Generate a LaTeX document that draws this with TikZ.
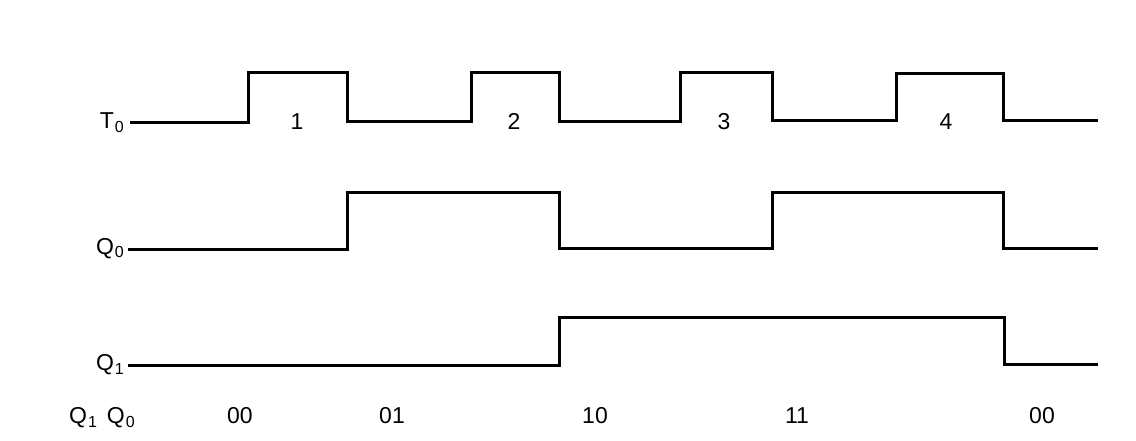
\documentclass[tikz,border=0pt]{standalone}
\usepackage{fontspec}
\setmainfont{Liberation Sans}
\newcommand{\sigsub}[1]{\hspace{1pt}\raisebox{-4pt}{\fontsize{16}{16}\selectfont #1}}
\begin{document}
\begin{tikzpicture}[x=1pt,y=-1pt,
  wave/.style={line width=3pt,line join=miter,black},
  lbl/.style={font=\fontsize{23}{23}\selectfont,inner sep=0pt,text=black},
  sig/.style={lbl,anchor=base east},
  num/.style={lbl,anchor=base}]
\useasboundingbox (0,0) rectangle (1136,441);
% T0
\draw[wave] (130,123) -- (248,123) -- (248,73) -- (347,73) -- (347,122)
  -- (471,122) -- (471,73) -- (559,73) -- (559,122)
  -- (680,122) -- (680,73) -- (772,73) -- (772,121)
  -- (896,121) -- (896,74) -- (1003,74) -- (1003,121) -- (1098,121);
% Q0
\draw[wave] (128,249) -- (347,249) -- (347,193) -- (559,193) -- (559,248)
  -- (772,248) -- (772,193) -- (1003,193) -- (1003,248) -- (1098,248);
% Q1
\draw[wave] (128,365) -- (559,365) -- (559,317) -- (1004,317) -- (1004,364) -- (1098,364);
% signal labels
\node[sig] (t0) at (124,129) {T\sigsub{0}};
\node[sig] (q0) at (124,254) {Q\sigsub{0}};
\node[sig] (q1) at (124,370) {Q\sigsub{1}};
% pulse numbers
\node[num] (p1) at (297,130) {1};
\node[num] (p2) at (514,130) {2};
\node[num] (p3) at (724,130) {3};
\node[num] (p4) at (946,130) {4};
% state labels
\node[lbl,anchor=base west] (qq) at (69,423) {Q\sigsub{1}\hspace{10pt}Q\sigsub{0}};
\node[num] (s1) at (240,423) {00};
\node[num] (s2) at (392,423) {01};
\node[num] (s3) at (595,423) {10};
\node[num] (s4) at (797,423) {11};
\node[num] (s5) at (1042,423) {00};
\end{tikzpicture}
\end{document}
